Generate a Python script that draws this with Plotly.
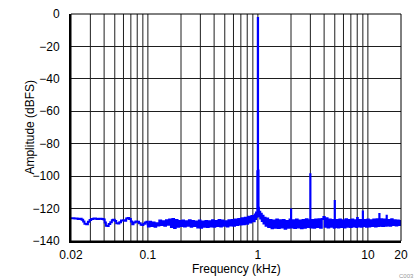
import plotly.graph_objects as go

# ---- data (frequency in kHz, amplitude in dBFS) ----
freq_low = [0.0200, 0.0215, 0.0230, 0.0240, 0.0250, 0.0258, 0.0265, 0.0275, 0.0285, 0.0295,
            0.0305, 0.0320, 0.0340, 0.0360, 0.0380, 0.0395, 0.0405, 0.0415, 0.0430, 0.0440,
            0.0455, 0.0470, 0.0480, 0.0500, 0.0515, 0.0535, 0.0550, 0.0570, 0.0595, 0.0615,
            0.0635, 0.0655, 0.0675, 0.0700, 0.0720, 0.0740, 0.0770, 0.0800, 0.0830, 0.0860,
            0.0890, 0.0910, 0.0940, 0.0970, 0.0990]
amp_low = [-126.0, -126.1, -126.4, -126.3, -126.9, -128.0, -129.4, -129.6, -128.2, -127.0,
           -126.4, -126.2, -126.5, -126.3, -126.4, -126.8, -128.6, -130.6, -130.8, -129.5,
           -128.4, -127.2, -126.9, -127.6, -129.0, -129.2, -128.4, -127.4, -127.2, -127.5,
           -126.2, -125.8, -126.4, -128.0, -129.6, -128.6, -128.0, -128.2, -129.0, -130.0,
           -130.2, -129.4, -128.6, -128.2, -129.6]

freq_mid = [0.100, 0.1035, 0.107, 0.111, 0.115, 0.119, 0.123, 0.127, 0.132, 0.136,
            0.141, 0.146, 0.151, 0.156, 0.162, 0.167, 0.173, 0.179, 0.186, 0.192,
            0.199, 0.206, 0.213, 0.221, 0.228, 0.236, 0.245, 0.253, 0.262, 0.271,
            0.281, 0.291, 0.301, 0.311, 0.322, 0.334, 0.345, 0.357, 0.370, 0.383,
            0.396, 0.410, 0.424, 0.439, 0.455, 0.470, 0.487, 0.504, 0.522, 0.540,
            0.559, 0.578, 0.598, 0.619, 0.641, 0.663, 0.687, 0.711, 0.735, 0.761,
            0.788, 0.815, 0.844, 0.873, 0.904, 0.935]
amp_mid = [-131.0, -128.2, -130.8, -128.6, -131.2, -129.0, -130.4, -127.4, -130.2, -127.8,
           -130.6, -127.2, -130.0, -126.8, -131.4, -126.4, -132.0, -127.0, -131.2, -127.6,
           -130.8, -127.4, -131.0, -127.8, -130.6, -127.2, -131.2, -127.6, -130.8, -128.0,
           -131.6, -127.4, -131.8, -128.0, -131.2, -127.6, -131.4, -127.8, -131.0, -127.2,
           -131.2, -127.6, -130.8, -127.0, -131.0, -127.4, -130.6, -127.8, -131.0, -127.2,
           -130.4, -127.0, -130.6, -126.8, -130.2, -126.4, -129.8, -126.0, -129.6, -125.6,
           -129.4, -125.0, -128.6, -124.6, -127.8, -123.6]

freq_fund = [0.950, 0.962, 0.975, 0.988, 0.998, 1.004, 1.014, 1.022, 1.035, 1.050,
             1.068, 1.085, 1.105, 1.125, 1.150, 1.175, 1.200]
amp_fund = [-126.4, -122.4, -125.0, -97.0, -2.5, -96.5, -119.5, -124.8, -122.0, -126.2,
            -123.2, -127.6, -124.4, -129.2, -125.6, -130.6, -126.2]

freq_high = [1.24, 1.28, 1.33, 1.37, 1.42, 1.47, 1.52, 1.58, 1.63, 1.69,
             1.75, 1.81, 1.87, 1.94, 2.00, 2.008, 2.07, 2.14, 2.22, 2.30,
             2.38, 2.46, 2.55, 2.64, 2.73, 2.83, 2.93, 2.995, 3.005, 3.10,
             3.21, 3.32, 3.44, 3.56, 3.68, 3.81, 3.94, 4.05, 4.15, 4.30,
             4.45, 4.60, 4.75, 4.90, 4.99, 5.01, 5.15, 5.32, 5.50, 5.68,
             5.87, 6.06, 6.26, 6.47, 6.68, 6.90, 7.13, 7.36, 7.60, 7.85,
             7.98, 8.10, 8.35, 8.62, 8.90, 8.99, 9.02, 9.30, 9.60, 9.91,
             10.2, 10.5, 10.9, 11.2, 11.6, 12.0, 12.4, 12.7, 12.76, 13.1,
             13.5, 14.0, 14.4, 14.8, 14.86, 15.3, 15.8, 16.3, 16.8, 17.4,
             17.9, 18.5, 19.1, 19.6, 20.0]
amp_high = [-131.4, -127.0, -132.2, -127.4, -131.8, -126.8, -132.0, -127.2, -131.6, -127.0,
            -132.4, -127.6, -131.8, -126.8, -120.6, -131.6, -127.2, -132.0, -126.8, -131.6,
            -127.4, -132.2, -127.0, -131.8, -126.6, -131.4, -127.2, -98.8, -131.6, -127.0,
            -131.8, -126.8, -131.4, -126.6, -131.8, -126.4, -125.2, -131.2, -126.0, -131.6,
            -126.8, -131.2, -127.0, -131.8, -115.4, -131.4, -127.0, -131.6, -126.8, -131.4,
            -127.2, -131.6, -126.6, -131.2, -127.0, -131.4, -126.8, -131.0, -127.2, -131.4,
            -125.8, -131.0, -127.0, -131.2, -127.2, -121.8, -130.8, -127.0, -131.2, -126.8,
            -131.0, -127.2, -130.8, -126.8, -131.0, -126.6, -130.8, -123.4, -130.6, -126.6,
            -130.8, -126.8, -130.6, -124.4, -130.4, -127.0, -130.6, -126.6, -130.2, -127.2,
            -130.4, -127.4, -130.2, -127.6, -129.4]

x_tick_vals = [0.02, 0.1, 1, 10, 20]
x_tick_text = ["0.02", "0.1", "1", "10", "20"]
x_grid_vals = [0.03, 0.04, 0.05, 0.06, 0.07, 0.08, 0.09,
               0.1, 0.2, 0.3, 0.4, 0.5, 0.6, 0.7, 0.8, 0.9,
               1, 2, 3, 4, 5, 6, 7, 8, 9, 10]
y_tick_vals = [-140, -120, -100, -80, -60, -40, -20, 0]

freq = freq_low + freq_mid + freq_fund + freq_high
amp = amp_low + amp_mid + amp_fund + amp_high

FONT = "Liberation Sans, Arial, sans-serif"
GRID = "#1e1e1e"

fig = go.Figure()
fig.add_trace(go.Scatter(x=freq, y=amp, mode="lines", line=dict(color="#0000ff", width=2, shape="hv"),
                         hoverinfo="skip", showlegend=False))

# vertical grid lines at every decade subdivision
for gv in x_grid_vals:
    fig.add_shape(type="line", xref="x", yref="paper", x0=gv, x1=gv, y0=0, y1=1,
                  line=dict(color=GRID, width=1), layer="below")

fig.update_layout(
    width=419, height=279,
    margin=dict(l=71, r=18, t=7, b=38),
    paper_bgcolor="white", plot_bgcolor="white",
    font=dict(family=FONT, size=12, color="black"),
    xaxis=dict(type="log", range=[-1.69897, 1.30103], tickvals=x_tick_vals, ticktext=x_tick_text,
               showgrid=False, zeroline=False, showline=True, linecolor="black", linewidth=2,
               ticks="", ticklabelstandoff=2, tickfont=dict(size=12)),
    yaxis=dict(range=[-140, 0], tickvals=y_tick_vals, showgrid=True, gridcolor=GRID, gridwidth=1,
               zeroline=False, showline=True, linecolor="black", linewidth=2,
               ticks="", ticklabelstandoff=7, tickfont=dict(size=12)),
    shapes=list(fig.layout.shapes) + [
        dict(type="rect", xref="paper", yref="paper", x0=0, x1=1, y0=0, y1=1,
             line=dict(color="black", width=1), layer="above")],
    annotations=[
        dict(text="Frequency (kHz)", xref="paper", yref="paper", x=0.5, y=-0.122,
             xanchor="center", yanchor="middle", showarrow=False, font=dict(size=12)),
        dict(text="Amplitude (dBFS)", xref="paper", yref="paper", x=-0.127, y=0.5,
             xanchor="center", yanchor="middle", textangle=-90, showarrow=False, font=dict(size=12)),
        dict(text="C003", xref="paper", yref="paper", x=1.045, y=-0.13,
             xanchor="right", yanchor="top", showarrow=False, font=dict(size=6, color="#999999")),
    ],
)

fig.write_html("out.html")
